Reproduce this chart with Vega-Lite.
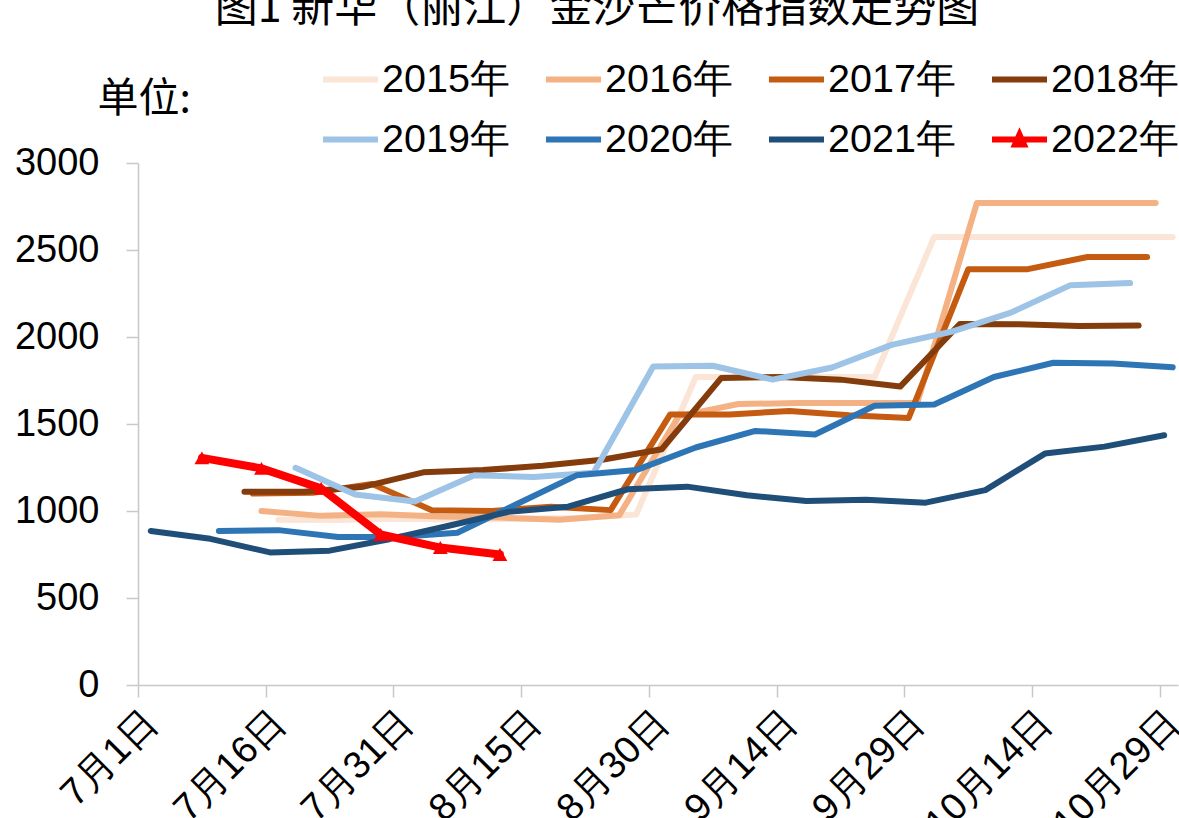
{
  "$schema": "https://vega.github.io/schema/vega-lite/v6.json",
  "width": 1040,
  "height": 522,
  "autosize": {"type": "none"},
  "padding": {"left": 138, "top": 163, "right": 1, "bottom": 133},
  "background": "white",
  "title": {
    "text": "图1  新华（丽江）金沙芒价格指数走势图",
    "font": "Noto Sans CJK SC",
    "fontSize": 43,
    "fontWeight": "normal",
    "color": "black",
    "anchor": "middle",
    "frame": "group",
    "orient": "top",
    "offset": 0,
    "dx": -61,
    "dy": -18
  },
  "config": {
    "view": {"stroke": null},
    "axis": {
      "domainColor": "#C8C8C8",
      "domainWidth": 1.5,
      "tickColor": "#C8C8C8",
      "tickWidth": 1.5,
      "tickSize": 12,
      "grid": false,
      "labelFont": "Liberation Sans",
      "labelFontSize": 38,
      "labelColor": "black"
    }
  },
  "data": {
    "values": [
      {"year": "2015年", "date": "2015/07/17", "value": 950},
      {"year": "2015年", "date": "2015/07/24", "value": 948},
      {"year": "2015年", "date": "2015/07/31", "value": 955},
      {"year": "2015年", "date": "2015/08/07", "value": 950},
      {"year": "2015年", "date": "2015/08/14", "value": 955},
      {"year": "2015年", "date": "2015/08/21", "value": 960},
      {"year": "2015年", "date": "2015/08/28", "value": 980},
      {"year": "2015年", "date": "2015/09/04", "value": 1770},
      {"year": "2015年", "date": "2015/09/11", "value": 1770},
      {"year": "2015年", "date": "2015/09/18", "value": 1770},
      {"year": "2015年", "date": "2015/09/25", "value": 1770},
      {"year": "2015年", "date": "2015/10/02", "value": 2575},
      {"year": "2015年", "date": "2015/10/09", "value": 2575},
      {"year": "2015年", "date": "2015/10/16", "value": 2575},
      {"year": "2015年", "date": "2015/10/23", "value": 2575},
      {"year": "2015年", "date": "2015/10/30", "value": 2575},

      {"year": "2016年", "date": "2016/07/15", "value": 1000},
      {"year": "2016年", "date": "2016/07/22", "value": 972},
      {"year": "2016年", "date": "2016/07/29", "value": 982},
      {"year": "2016年", "date": "2016/08/05", "value": 968},
      {"year": "2016年", "date": "2016/08/12", "value": 962},
      {"year": "2016年", "date": "2016/08/19", "value": 950},
      {"year": "2016年", "date": "2016/08/26", "value": 975},
      {"year": "2016年", "date": "2016/09/02", "value": 1545},
      {"year": "2016年", "date": "2016/09/09", "value": 1615},
      {"year": "2016年", "date": "2016/09/16", "value": 1620},
      {"year": "2016年", "date": "2016/09/23", "value": 1620},
      {"year": "2016年", "date": "2016/09/30", "value": 1620},
      {"year": "2016年", "date": "2016/10/07", "value": 2770},
      {"year": "2016年", "date": "2016/10/14", "value": 2770},
      {"year": "2016年", "date": "2016/10/21", "value": 2770},
      {"year": "2016年", "date": "2016/10/28", "value": 2770},

      {"year": "2017年", "date": "2017/07/14", "value": 1100},
      {"year": "2017年", "date": "2017/07/21", "value": 1105},
      {"year": "2017年", "date": "2017/07/28", "value": 1155},
      {"year": "2017年", "date": "2017/08/04", "value": 1005},
      {"year": "2017年", "date": "2017/08/11", "value": 1000},
      {"year": "2017年", "date": "2017/08/18", "value": 1025},
      {"year": "2017年", "date": "2017/08/25", "value": 1005},
      {"year": "2017年", "date": "2017/09/01", "value": 1555},
      {"year": "2017年", "date": "2017/09/08", "value": 1555},
      {"year": "2017年", "date": "2017/09/15", "value": 1575},
      {"year": "2017年", "date": "2017/09/22", "value": 1550},
      {"year": "2017年", "date": "2017/09/29", "value": 1535},
      {"year": "2017年", "date": "2017/10/06", "value": 2390},
      {"year": "2017年", "date": "2017/10/13", "value": 2390},
      {"year": "2017年", "date": "2017/10/20", "value": 2460},
      {"year": "2017年", "date": "2017/10/27", "value": 2460},

      {"year": "2018年", "date": "2018/07/13", "value": 1110},
      {"year": "2018年", "date": "2018/07/20", "value": 1110},
      {"year": "2018年", "date": "2018/07/27", "value": 1140},
      {"year": "2018年", "date": "2018/08/03", "value": 1222},
      {"year": "2018年", "date": "2018/08/10", "value": 1235},
      {"year": "2018年", "date": "2018/08/17", "value": 1260},
      {"year": "2018年", "date": "2018/08/24", "value": 1295},
      {"year": "2018年", "date": "2018/08/31", "value": 1355},
      {"year": "2018年", "date": "2018/09/07", "value": 1765},
      {"year": "2018年", "date": "2018/09/14", "value": 1770},
      {"year": "2018年", "date": "2018/09/21", "value": 1755},
      {"year": "2018年", "date": "2018/09/28", "value": 1715},
      {"year": "2018年", "date": "2018/10/05", "value": 2075},
      {"year": "2018年", "date": "2018/10/12", "value": 2073},
      {"year": "2018年", "date": "2018/10/19", "value": 2063},
      {"year": "2018年", "date": "2018/10/26", "value": 2066},

      {"year": "2019年", "date": "2019/07/19", "value": 1248},
      {"year": "2019年", "date": "2019/07/26", "value": 1095},
      {"year": "2019年", "date": "2019/08/02", "value": 1055},
      {"year": "2019年", "date": "2019/08/09", "value": 1205},
      {"year": "2019年", "date": "2019/08/16", "value": 1195},
      {"year": "2019年", "date": "2019/08/23", "value": 1220},
      {"year": "2019年", "date": "2019/08/30", "value": 1830},
      {"year": "2019年", "date": "2019/09/06", "value": 1835},
      {"year": "2019年", "date": "2019/09/13", "value": 1755},
      {"year": "2019年", "date": "2019/09/20", "value": 1825},
      {"year": "2019年", "date": "2019/09/27", "value": 1955},
      {"year": "2019年", "date": "2019/10/04", "value": 2030},
      {"year": "2019年", "date": "2019/10/11", "value": 2140},
      {"year": "2019年", "date": "2019/10/18", "value": 2298},
      {"year": "2019年", "date": "2019/10/25", "value": 2310},

      {"year": "2020年", "date": "2020/07/10", "value": 885},
      {"year": "2020年", "date": "2020/07/17", "value": 890},
      {"year": "2020年", "date": "2020/07/24", "value": 850},
      {"year": "2020年", "date": "2020/07/31", "value": 850},
      {"year": "2020年", "date": "2020/08/07", "value": 875},
      {"year": "2020年", "date": "2020/08/14", "value": 1040},
      {"year": "2020年", "date": "2020/08/21", "value": 1205},
      {"year": "2020年", "date": "2020/08/28", "value": 1235},
      {"year": "2020年", "date": "2020/09/04", "value": 1365},
      {"year": "2020年", "date": "2020/09/11", "value": 1460},
      {"year": "2020年", "date": "2020/09/18", "value": 1440},
      {"year": "2020年", "date": "2020/09/25", "value": 1605},
      {"year": "2020年", "date": "2020/10/02", "value": 1612},
      {"year": "2020年", "date": "2020/10/09", "value": 1770},
      {"year": "2020年", "date": "2020/10/16", "value": 1852},
      {"year": "2020年", "date": "2020/10/23", "value": 1848},
      {"year": "2020年", "date": "2020/10/30", "value": 1826},

      {"year": "2021年", "date": "2021/07/02", "value": 885},
      {"year": "2021年", "date": "2021/07/09", "value": 840},
      {"year": "2021年", "date": "2021/07/16", "value": 762},
      {"year": "2021年", "date": "2021/07/23", "value": 772},
      {"year": "2021年", "date": "2021/07/30", "value": 838},
      {"year": "2021年", "date": "2021/08/06", "value": 915},
      {"year": "2021年", "date": "2021/08/13", "value": 995},
      {"year": "2021年", "date": "2021/08/20", "value": 1025},
      {"year": "2021年", "date": "2021/08/27", "value": 1125},
      {"year": "2021年", "date": "2021/09/03", "value": 1140},
      {"year": "2021年", "date": "2021/09/10", "value": 1090},
      {"year": "2021年", "date": "2021/09/17", "value": 1057},
      {"year": "2021年", "date": "2021/09/24", "value": 1065},
      {"year": "2021年", "date": "2021/10/01", "value": 1048},
      {"year": "2021年", "date": "2021/10/08", "value": 1120},
      {"year": "2021年", "date": "2021/10/15", "value": 1330},
      {"year": "2021年", "date": "2021/10/22", "value": 1370},
      {"year": "2021年", "date": "2021/10/29", "value": 1435},

      {"year": "2022年", "date": "2022/07/08", "value": 1305},
      {"year": "2022年", "date": "2022/07/15", "value": 1245},
      {"year": "2022年", "date": "2022/07/22", "value": 1130},
      {"year": "2022年", "date": "2022/07/29", "value": 865},
      {"year": "2022年", "date": "2022/08/05", "value": 790},
      {"year": "2022年", "date": "2022/08/12", "value": 750}
    ]
  },
  "encoding": {
    "x": {
      "field": "date",
      "type": "temporal",
      "timeUnit": "monthdate",
      "bandPosition": 0.5,
      "title": null,
      "scale": {"domain": [{"month": 7, "date": 1}, {"month": 10, "date": 31, "hours": 3}]},
      "axis": {
        "values": [
          {"month": 7, "date": 1}, {"month": 7, "date": 16}, {"month": 7, "date": 31},
          {"month": 8, "date": 15}, {"month": 8, "date": 30}, {"month": 9, "date": 14},
          {"month": 9, "date": 29}, {"month": 10, "date": 14}, {"month": 10, "date": 29}
        ],
        "format": "%-m月%-d日",
        "labelAngle": -45,
        "labelFont": "Liberation Sans",
        "labelPadding": 6,
        "labelOverlap": false,
        "labelFlush": false
      }
    },
    "y": {
      "field": "value",
      "type": "quantitative",
      "scale": {"domain": [0, 3000], "nice": false},
      "axis": {
        "values": [0, 500, 1000, 1500, 2000, 2500, 3000],
        "format": "d",
        "labelPadding": 27,
        "title": "单位:",
        "titleAngle": 0,
        "titleAlign": "left",
        "titleBaseline": "alphabetic",
        "titleX": -41,
        "titleY": -52,
        "titleFont": "Noto Sans CJK SC",
        "titleFontSize": 41,
        "titleFontWeight": "normal",
        "titleColor": "black"
      }
    }
  },
  "layer": [
    {
      "transform": [{"filter": "datum.year !== '2022年'"}],
      "mark": {"type": "line", "strokeWidth": 6, "strokeCap": "round", "strokeJoin": "round"},
      "encoding": {
        "color": {
          "field": "year",
          "type": "nominal",
          "scale": {
            "domain": ["2015年", "2016年", "2017年", "2018年", "2019年", "2020年", "2021年", "2022年"],
            "range": ["#FBE5D6", "#F4B183", "#C55A11", "#843C0C", "#9DC3E6", "#2E75B6", "#1F4E79", "#FF0000"]
          },
          "legend": {
            "orient": "none",
            "legendX": 182,
            "legendY": -114,
            "direction": "horizontal",
            "columns": 4,
            "title": null,
            "symbolType": "stroke",
            "symbolSize": 3025,
            "symbolStrokeWidth": 6,
            "labelFont": "Liberation Sans",
            "labelFontSize": 39.5,
            "labelColor": "black",
            "labelOffset": 1,
            "columnPadding": 24,
            "rowPadding": 10,
            "encode": {
              "symbols": {
                "update": {
                  "shape": {"signal": "datum.value === '2022年' ? 'M-1,0H1M-0.16,0.18L0,-0.18L0.16,0.18Z' : 'stroke'"},
                  "fill": {"signal": "datum.value === '2022年' ? '#FF0000' : 'transparent'"},
                  "strokeWidth": {"value": 6}
                }
              }
            }
          }
        }
      }
    },
    {
      "transform": [{"filter": "datum.year === '2022年'"}],
      "mark": {"type": "line", "strokeWidth": 8, "strokeCap": "round", "strokeJoin": "round"},
      "encoding": {
        "color": {"field": "year", "type": "nominal", "legend": null}
      }
    },
    {
      "transform": [{"filter": "datum.year === '2022年'"}],
      "mark": {"type": "point", "shape": "triangle-up", "filled": true, "size": 220, "opacity": 1},
      "encoding": {
        "color": {"field": "year", "type": "nominal", "legend": null}
      }
    }
  ]
}
